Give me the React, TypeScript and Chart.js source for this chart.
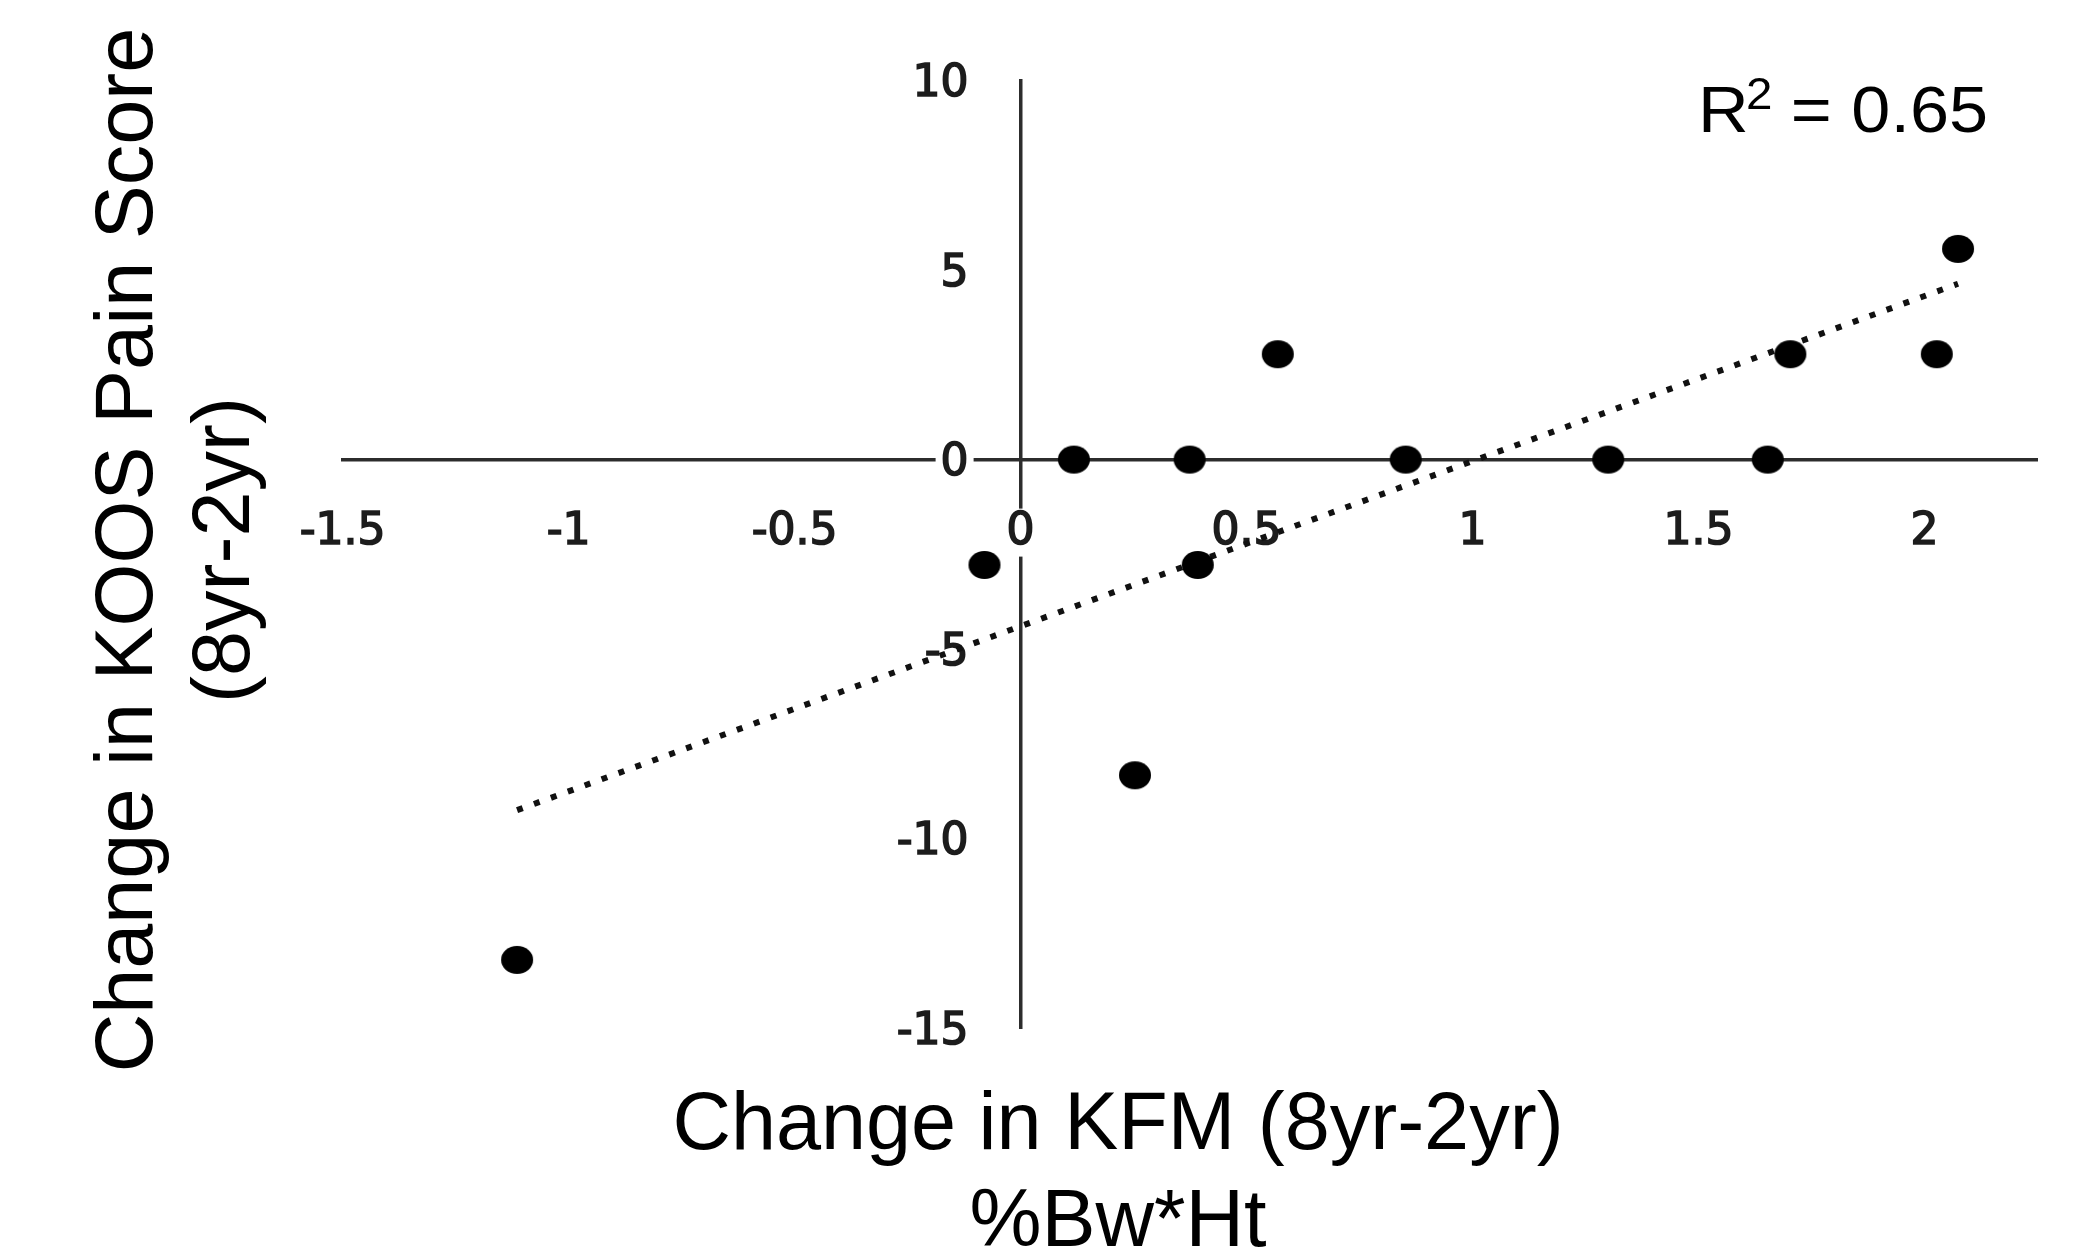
import React, { useEffect, useRef } from "react";
import { Chart, registerables } from "chart.js";

Chart.register(...registerables);

// ---- data ----
const kfmChange = [-1.114, -0.08, 0.118, 0.253, 0.374, 0.392, 0.569, 0.852, 1.3, 1.653, 1.703, 2.027, 2.074];
const koosChange = [-13.2, -2.78, 0, -8.33, 0, -2.78, 2.78, 0, 0, 0, 2.78, 2.78, 5.56];
const trendX = [-1.114, 2.074];
const trendY = [-9.25, 4.64];
const xTicks = [-1.5, -1, -0.5, 0, 0.5, 1, 1.5, 2];
const yTicks = [-15, -10, -5, 0, 5, 10];
const xTitle = ["Change in KFM (8yr-2yr)", "%Bw*Ht"];
const yTitle = ["Change in KOOS Pain Score", "(8yr-2yr)"];
const rSquaredValue = "0.65";

const W = 2089;
const H = 1255;
const Y_LABEL_GAP = 52;

function makeMarker(): HTMLCanvasElement {
  const c = document.createElement("canvas");
  c.width = 34;
  c.height = 30;
  const g = c.getContext("2d")!;
  g.fillStyle = "#000";
  g.beginPath();
  g.ellipse(17, 15, 16, 14, 0, 0, Math.PI * 2);
  g.fill();
  return c;
}

// move the y tick labels to the left of the centred y axis
const yLabelShiftPlugin = {
  id: "yLabelShift",
  beforeDraw(chart: any) {
    const s = chart.scales.y;
    const items = s.getLabelItems(chart.chartArea);
    items.forEach((it: any) => {
      if (!it.__shifted) {
        it.options.translation[0] -= Y_LABEL_GAP;
        it.__shifted = true;
      }
    });
  },
};

const textPlugin = {
  id: "customText",
  afterDraw(chart: any) {
    const ctx = chart.ctx as CanvasRenderingContext2D;
    const titleFont = '81px "Liberation Sans", Arial, sans-serif';
    ctx.save();
    ctx.fillStyle = "#000";
    ctx.textBaseline = "alphabetic";
    // x-axis title
    ctx.font = titleFont;
    ctx.textAlign = "center";
    ctx.fillText(xTitle[0], 1118, 1149);
    ctx.fillText(xTitle[1], 1118, 1246);
    // y-axis title (rotated)
    const yCenter = 550;
    [152, 249].forEach((bx, i) => {
      ctx.save();
      ctx.translate(bx, yCenter);
      ctx.rotate(-Math.PI / 2);
      ctx.textAlign = "center";
      ctx.fillText(yTitle[i], 0, 0);
      ctx.restore();
    });
    // R^2 annotation
    const sx = 1.08;
    ctx.textAlign = "left";
    ctx.font = '65px "Liberation Sans", Arial, sans-serif';
    ctx.save();
    ctx.translate(1698, 132);
    ctx.scale(sx, 1);
    ctx.fillText("R", 0, 0);
    ctx.restore();
    ctx.font = '44px "Liberation Sans", Arial, sans-serif';
    ctx.save();
    ctx.translate(1746, 109);
    ctx.scale(sx, 1);
    ctx.fillText("2", 0, 0);
    ctx.restore();
    ctx.font = '65px "Liberation Sans", Arial, sans-serif';
    ctx.textAlign = "right";
    ctx.save();
    ctx.translate(1988, 132);
    ctx.scale(sx, 1);
    ctx.fillText("= " + rSquaredValue, 0, 0);
    ctx.restore();
    ctx.restore();
  },
};

export default function App() {
  const canvasRef = useRef<HTMLCanvasElement | null>(null);

  useEffect(() => {
    if (!canvasRef.current) return;
    const marker = makeMarker();
    const tickFont = { family: '"DejaVu Sans", Verdana, sans-serif', size: 44, weight: "normal", lineHeight: 1.0 };
    const tickColor = "#1c1c1c";
    const axisColor = "#2c2c2c";

    const chart = new Chart(canvasRef.current, {
      type: "scatter",
      data: {
        datasets: [
          {
            label: "KOOS vs KFM",
            data: kfmChange.map((x, i) => ({ x, y: koosChange[i] })),
            pointStyle: marker as any,
            pointRadius: 15,
            backgroundColor: "#000",
            borderWidth: 0,
            showLine: false,
          },
          {
            label: "Trend",
            data: trendX.map((x, i) => ({ x, y: trendY[i] })),
            showLine: true,
            borderColor: "#111",
            borderWidth: 6,
            borderDash: [6, 12],
            borderCapStyle: "butt",
            pointRadius: 0,
            fill: false,
          },
        ],
      },
      options: {
        responsive: false,
        animation: false,
        devicePixelRatio: 1,
        events: [],
        layout: {
          padding: { left: 342.6, right: 51.4, top: 80.6, bottom: 226.9 },
        },
        plugins: {
          legend: { display: false },
          tooltip: { enabled: false },
          title: { display: false },
        },
        scales: {
          x: {
            type: "linear",
            min: -1.5,
            max: 2.25,
            position: { y: 0 } as any,
            afterFit: (s: any) => {
              s.height = 0;
            },
            afterBuildTicks: (s: any) => {
              s.ticks = xTicks.map((v) => ({ value: v }));
            },
            grid: {
              display: true,
              drawOnChartArea: false,
              color: "rgba(0,0,0,0)",
              tickLength: 48,
            },
            border: { display: true, color: axisColor, width: 3.5, z: -1 },
            ticks: {
              font: tickFont,
              color: tickColor,
              textStrokeColor: tickColor,
              textStrokeWidth: 1.6,
              maxRotation: 0,
              autoSkip: false,
              showLabelBackdrop: true,
              backdropColor: "#ffffff",
              backdropPadding: { top: 2, bottom: 2, left: 4, right: 4 },
              callback: (v: any) => String(v),
            },
          },
          y: {
            type: "linear",
            min: -15,
            max: 10,
            position: { x: 0 } as any,
            afterFit: (s: any) => {
              s.width = 0;
            },
            afterBuildTicks: (s: any) => {
              s.ticks = yTicks.map((v) => ({ value: v }));
            },
            grid: {
              display: true,
              drawOnChartArea: false,
              color: "rgba(0,0,0,0)",
              tickLength: 0,
            },
            border: { display: true, color: axisColor, width: 3.5, z: -1 },
            ticks: {
              font: tickFont,
              color: tickColor,
              textStrokeColor: tickColor,
              textStrokeWidth: 1.6,
              autoSkip: false,
              labelOffset: 4,
              showLabelBackdrop: true,
              backdropColor: "#ffffff",
              backdropPadding: { top: 2, bottom: 2, left: 5, right: 5 },
              callback: (v: any) => String(v),
            },
          },
        },
      },
      plugins: [yLabelShiftPlugin, textPlugin],
    } as any);

    return () => {
      chart.destroy();
    };
  }, []);

  return (
    <div style={{ position: "absolute", left: 0, top: 0, width: W, height: H, background: "#fff" }}>
      <canvas ref={canvasRef} width={W} height={H} style={{ display: "block", width: W, height: H }} />
    </div>
  );
}
